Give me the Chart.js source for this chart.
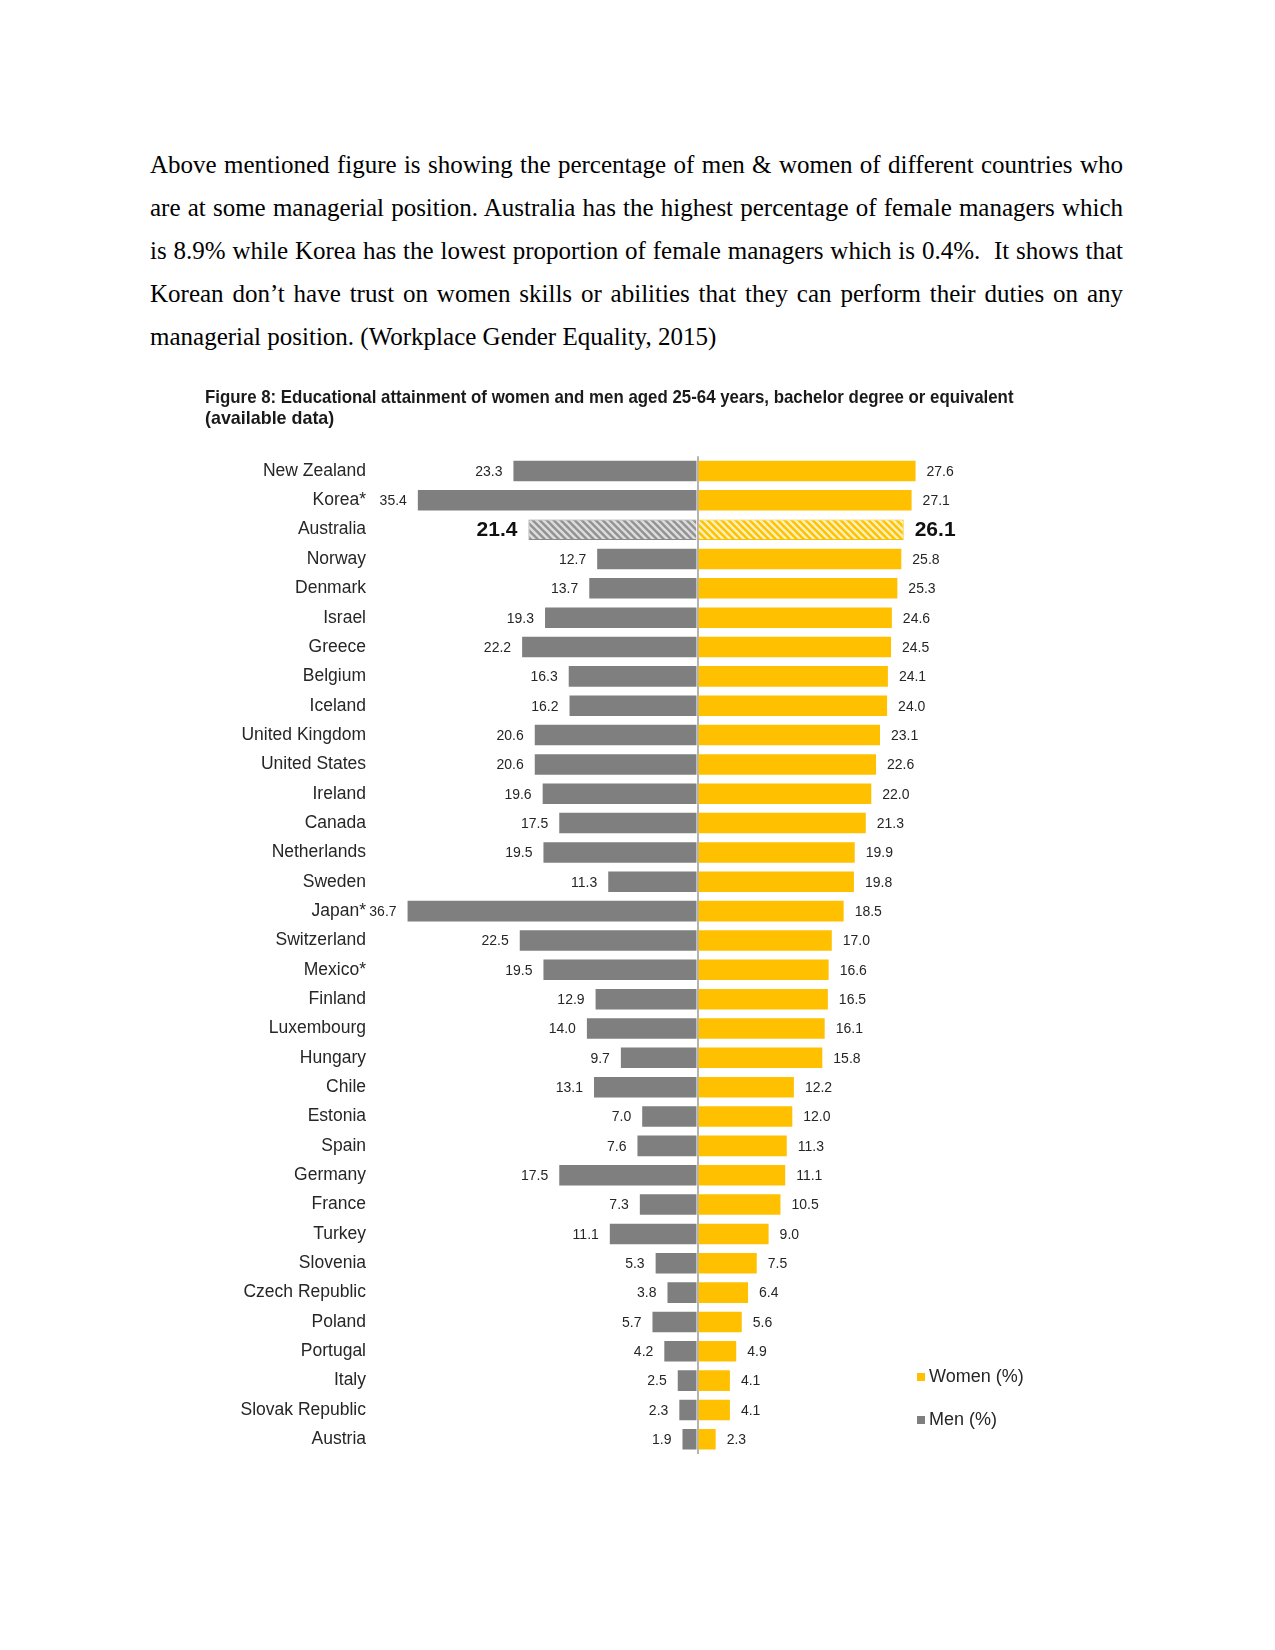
<!DOCTYPE html>
<html>
<head>
<meta charset="utf-8">
<script src="https://cdn.jsdelivr.net/npm/chart.js@4.4.0/dist/chart.umd.min.js"></script>
<style>
  html, body { margin: 0; padding: 0; background: #fff; }
  body { width: 1275px; height: 1650px; position: relative; overflow: hidden; }
  #text { position: absolute; left: 150px; top: 143px; width: 973px;
          font-family: "Liberation Serif", "Times New Roman", serif; font-size: 25px;
          line-height: 43px; color: #000; }
  #text .j { text-align: justify; text-align-last: justify; }
  #wrap { position: absolute; left: 0; top: 376px; width: 1275px; height: 1104px; }
  #legend { position: absolute; left: 917px; top: 1364px; font-family: "Liberation Sans", Arial, sans-serif;
            font-size: 18px; color: #262626; }
  #legend .item { height: 25px; line-height: 25px; margin-bottom: 18px; white-space: nowrap; }
  #legend .sw { display: inline-block; width: 8px; height: 8px; margin-right: 4px; vertical-align: 1px; }
</style>
</head>
<body>
<div id="text">
  <div class="j">Above mentioned figure is showing the percentage of men &amp; women of different countries who</div>
  <div class="j">are at some managerial position. Australia has the highest percentage of female managers which</div>
  <div class="j">is 8.9% while Korea has the lowest proportion of female managers which is 0.4%.&nbsp; It shows that</div>
  <div class="j">Korean don’t have trust on women skills or abilities that they can perform their duties on any</div>
  <div>managerial position. (Workplace Gender Equality, 2015)</div>
</div>
<div id="wrap"><canvas id="chart" width="1275" height="1104"></canvas></div>
<div id="legend"></div>
<script>
const countries = ['New Zealand', 'Korea*', 'Australia', 'Norway', 'Denmark', 'Israel', 'Greece', 'Belgium',
  'Iceland', 'United Kingdom', 'United States', 'Ireland', 'Canada', 'Netherlands', 'Sweden', 'Japan*',
  'Switzerland', 'Mexico*', 'Finland', 'Luxembourg', 'Hungary', 'Chile', 'Estonia', 'Spain', 'Germany',
  'France', 'Turkey', 'Slovenia', 'Czech Republic', 'Poland', 'Portugal', 'Italy', 'Slovak Republic', 'Austria'];
const men = [23.3, 35.4, 21.4, 12.7, 13.7, 19.3, 22.2, 16.3, 16.2, 20.6, 20.6, 19.6, 17.5, 19.5, 11.3, 36.7,
  22.5, 19.5, 12.9, 14.0, 9.7, 13.1, 7.0, 7.6, 17.5, 7.3, 11.1, 5.3, 3.8, 5.7, 4.2, 2.5, 2.3, 1.9];
const women = [27.6, 27.1, 26.1, 25.8, 25.3, 24.6, 24.5, 24.1, 24.0, 23.1, 22.6, 22.0, 21.3, 19.9, 19.8, 18.5,
  17.0, 16.6, 16.5, 16.1, 15.8, 12.2, 12.0, 11.3, 11.1, 10.5, 9.0, 7.5, 6.4, 5.6, 4.9, 4.1, 4.1, 2.3];
const highlight = 'Australia';
const titleLines = ['Figure 8: Educational attainment of women and men aged 25-64 years, bachelor degree or equivalent',
  '(available data)'];

const GREY = '#7f7f7f';
const YELLOW = '#ffc000';

function hatch(base, stripe) {
  const c = document.createElement('canvas');
  c.width = 7; c.height = 7;
  const g = c.getContext('2d');
  g.fillStyle = base;
  g.fillRect(0, 0, 7, 7);
  g.strokeStyle = stripe;
  g.lineWidth = 2.6;
  g.beginPath();
  g.moveTo(-1, -1); g.lineTo(8, 8);
  g.moveTo(-8, -1); g.lineTo(1, 8);
  g.moveTo(6, -1); g.lineTo(15, 8);
  g.stroke();
  return g.createPattern(c, 'repeat');
}

const hi = countries.indexOf(highlight);
const menFill = countries.map((c, i) => i === hi ? hatch('#929292', '#dcdcdc') : GREY);
const womenFill = countries.map((c, i) => i === hi ? hatch('#ffc000', '#fff0b8') : YELLOW);

const valueLabels = {
  id: 'valueLabels',
  afterDatasetsDraw(chart) {
    const ctx = chart.ctx;
    ctx.save();
    ctx.textBaseline = 'middle';
    chart.data.datasets.forEach((ds, di) => {
      const meta = chart.getDatasetMeta(di);
      meta.data.forEach((bar, i) => {
        const v = Math.abs(ds.data[i]).toFixed(1);
        const big = i === hi;
        ctx.font = (big ? 'bold 21px' : '14px') + ' "Liberation Sans", Arial, sans-serif';
        ctx.fillStyle = big ? '#111' : '#262626';
        if (ds.data[i] < 0) {
          ctx.textAlign = 'right';
          ctx.fillText(v, bar.x - 11, bar.y + 1);
        } else {
          ctx.textAlign = 'left';
          ctx.fillText(v, bar.x + 11, bar.y + 1);
        }
      });
    });
    ctx.restore();
  }
};

const chart = new Chart(document.getElementById('chart'), {
  type: 'bar',
  data: {
    labels: countries,
    datasets: [
      {
        label: 'Men (%)',
        data: men.map(v => -v),
        backgroundColor: menFill,
        borderColor: countries.map((c, i) => i === hi ? '#8a8a8a' : GREY),
        borderWidth: countries.map((c, i) => i === hi ? 1 : 0),
        borderSkipped: 'start',
        categoryPercentage: 1,
        barPercentage: 0.7,
        legendColor: GREY
      },
      {
        label: 'Women (%)',
        data: women,
        backgroundColor: womenFill,
        borderColor: countries.map((c, i) => i === hi ? '#f5c000' : YELLOW),
        borderWidth: countries.map((c, i) => i === hi ? 1 : 0),
        borderSkipped: 'start',
        categoryPercentage: 1,
        barPercentage: 0.7,
        legendColor: YELLOW
      }
    ]
  },
  options: {
    indexAxis: 'y',
    responsive: false,
    animation: false,
    // bottom space comes from the y axis label padding (~26px)
    layout: { padding: { left: 205, right: 261.5, top: 0, bottom: 0 } },
    scales: {
      x: {
        stacked: true,
        min: -40,
        max: 40,
        z: 1,
        ticks: { display: false, stepSize: 10 },
        grid: {
          drawTicks: false,
          lineWidth: 2,
          color: c => (c.tick && c.tick.value === 0) ? '#b4b4b4' : 'rgba(0,0,0,0)'
        },
        border: { display: false },
        afterFit: a => { a.height = 0; }
      },
      y: {
        stacked: true,
        grid: { display: false, drawTicks: false },
        border: { display: false },
        ticks: {
          autoSkip: false,
          padding: 15.5,
          color: '#262626',
          font: { family: '"Liberation Sans", Arial, sans-serif', size: 17.5 }
        },
        afterFit: a => { a.width = 176.5; }
      }
    },
    plugins: {
      legend: { display: false },
      tooltip: { enabled: false },
      title: {
        display: true,
        text: titleLines,
        align: 'start',
        color: '#1a1a1a',
        font: { family: '"Liberation Sans", Arial, sans-serif', size: 17.9, weight: 'bold', lineHeight: 21 / 17.9 },
        padding: { top: 12, bottom: 26.3 }
      }
    }
  },
  plugins: [valueLabels]
});

// legend built from the chart's datasets, women first as in the original
const legend = document.getElementById('legend');
chart.data.datasets.slice().reverse().forEach(ds => {
  const item = document.createElement('div');
  item.className = 'item';
  const sw = document.createElement('span');
  sw.className = 'sw';
  sw.style.background = ds.legendColor;
  item.appendChild(sw);
  item.appendChild(document.createTextNode(ds.label));
  legend.appendChild(item);
});
</script>
</body>
</html>
